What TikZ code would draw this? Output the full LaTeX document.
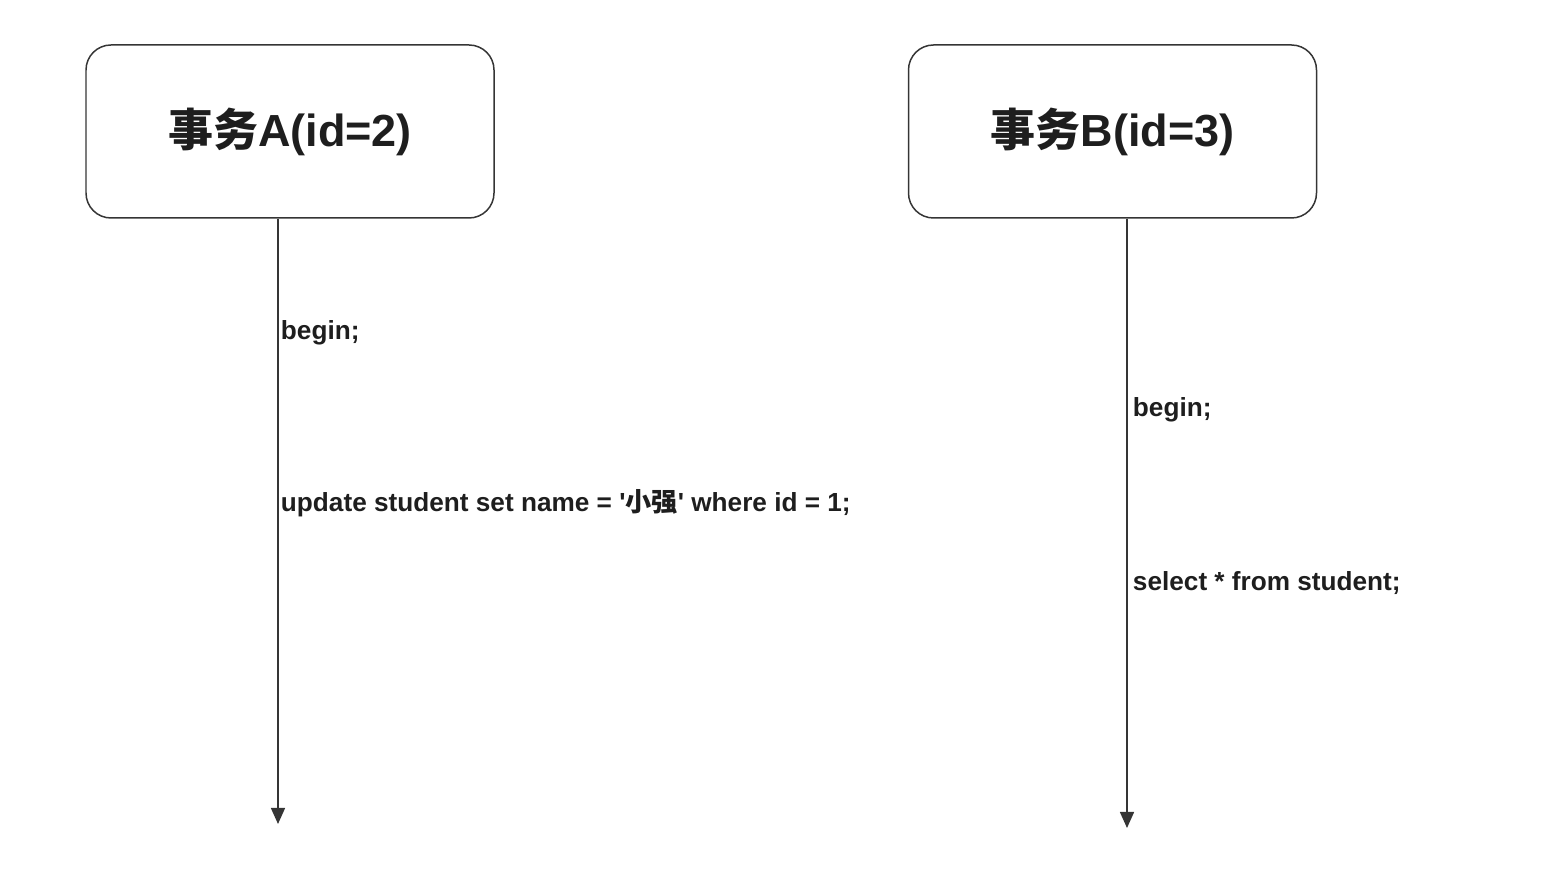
\documentclass[tikz,border=0pt]{standalone}
\usepackage{fontspec}
\setmainfont{Liberation Sans}
\newfontfamily\cjk{Noto Sans CJK SC}
\usetikzlibrary{arrows.meta,positioning}
\definecolor{inkgray}{HTML}{1E1E1E}
\tikzset{txbox/.style={draw=inkgray!90,line width=0.85pt,rounded corners=0.5cm,minimum width=8.16cm,minimum height=3.46cm,align=center,font=\fontsize{25.6}{30}\selectfont\bfseries,text=inkgray},
  stmt/.style={anchor=west,inner sep=1.5pt,font=\fontsize{14.9}{17}\selectfont\bfseries,text=inkgray},
  timeline/.style={-{Triangle[length=3.2mm,width=2.8mm]},line width=0.85pt,draw=inkgray!90}}

\begin{document}
\begin{tikzpicture}
\useasboundingbox (0,0) rectangle (30.82,17.38);
\node[txbox] (boxA) at (5.8,14.75){{\cjk\bfseries 事务}A(id=2)};
\node[txbox] (boxB) at (22.25,14.75){{\cjk\bfseries 事务}B(id=3)};
\coordinate (endA) at (5.56,0.9);
\coordinate (endB) at (22.54,0.82);
\draw[timeline] (boxA.south -| endA)--(endA);
\draw[timeline] (boxB.south -| endB)--(endB);
% statements of transaction A
\node[stmt] (beginA) at (5.56,10.72){begin;};
\node[stmt] (updateA) at (5.56,7.31){update student set name = \textquotesingle{\cjk\bfseries 小强}\textquotesingle{} where id = 1;};
% statements of transaction B
\node[stmt] (beginB) at (22.6,9.18){begin;};
\node[stmt] (selectB) at (22.6,5.71){select * from student;};
\end{tikzpicture}
\end{document}
